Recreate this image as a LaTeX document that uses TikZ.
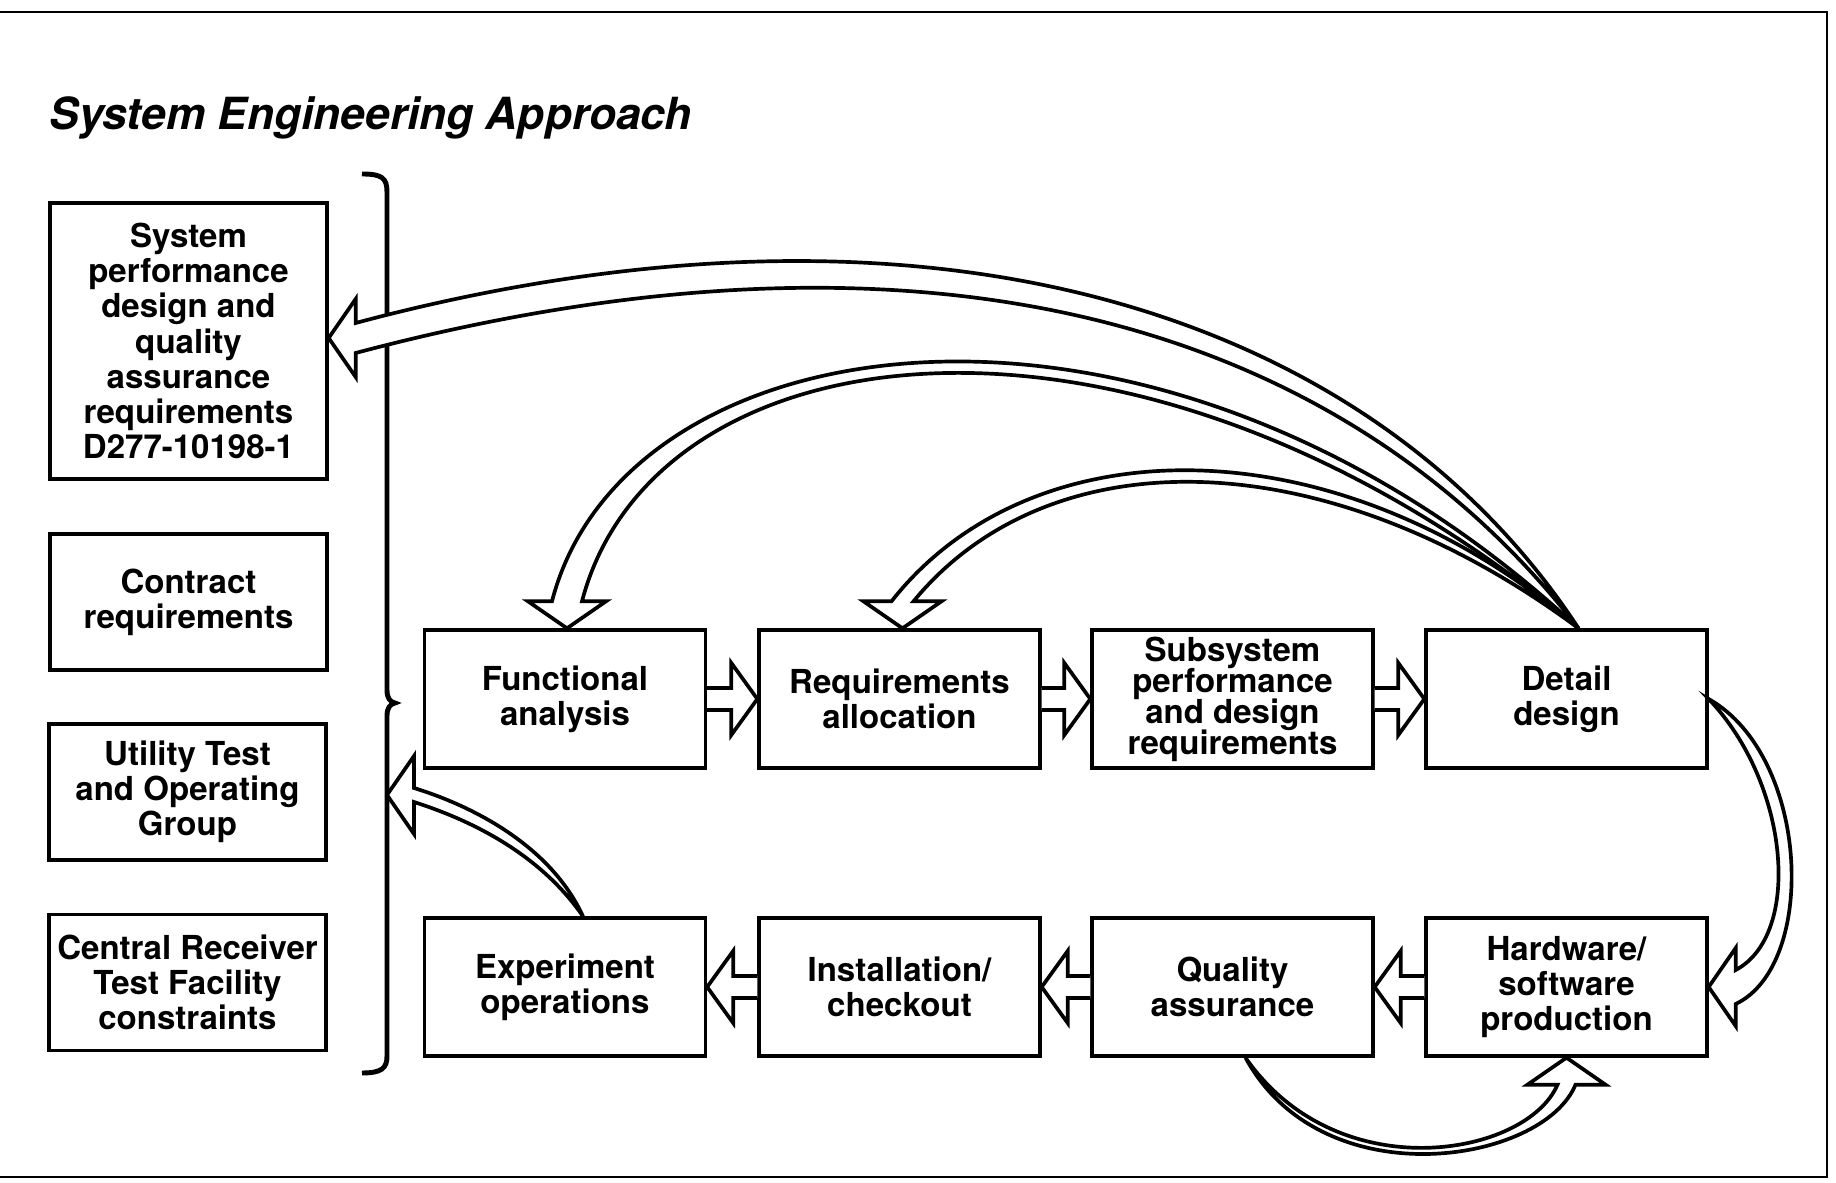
\documentclass[tikz,border=0pt]{standalone}
\usepackage{fontspec}
\setsansfont{TeX Gyre Heros}
\usetikzlibrary{calc}
\newcommand\boxfont{\sffamily\bfseries\fontsize{9.4}{10}\selectfont\lineskiplimit=-10pt}
\newcommand\tightfont{\sffamily\bfseries\fontsize{9.4}{8.8}\selectfont\lineskiplimit=-10pt}
\tikzset{
  stagebox/.style={draw, line width=0.95pt, minimum width=28.1mm, minimum height=13.8mm,
    inner sep=0pt, align=center, font=\boxfont},
  inputbox/.style={stagebox, minimum width=27.7mm, minimum height=13.6mm},
  hollow/.style={fill=white, draw=black, line width=1.05pt, line join=miter}
}
% #1 start, #2 #3 controls, #4 tip, #5 shaft half width, #6 head angle
\newcommand\bentarrow[6]{%
  \coordinate (ba-b) at ($(#4)+(#6:2.7mm)$);
  \filldraw[hollow] (#1)
    .. controls ($(#2)!#5!-90:(#1)$) and ($(#3)!#5!90:(ba-b)$) .. ($(ba-b)!#5!90:(#4)$)
    -- ($(ba-b)!3.9mm!90:(#4)$) -- (#4) -- ($(ba-b)!3.9mm!-90:(#4)$)
    -- ($(ba-b)!#5!-90:(#4)$)
    .. controls ($(#3)!#5!-90:(ba-b)$) and ($(#2)!#5!90:(#1)$) .. (#1) -- cycle;
}
\newcommand\blockarrow[2]{%
  \coordinate (bk-b) at ($(#2)!2.6mm!(#1)$);
  \filldraw[hollow] ($(#1)!1.1mm!90:(#2)$) -- ($(bk-b)!1.1mm!90:(#2)$)
    -- ($(bk-b)!3.6mm!90:(#2)$) -- (#2) -- ($(bk-b)!3.6mm!-90:(#2)$)
    -- ($(bk-b)!1.1mm!-90:(#2)$) -- ($(#1)!1.1mm!-90:(#2)$);
}
\begin{document}
\begin{tikzpicture}[x=0.1mm, y=-0.1mm]
  \useasboundingbox (0,0) rectangle (1836,1183);
  \draw[line width=0.6pt] (0,12) -- (1827,12) -- (1827,1177) -- (0,1177);
  \node[anchor=base west, inner sep=0pt, font=\sffamily\bfseries\itshape\fontsize{12.6}{14}\selectfont]
    (title) at (49,130) {System Engineering Approach};

  \node[inputbox, minimum height=27.6mm] (sysreq) at (188.5,341)
    {System\\performance\\design and\\quality\\assurance\\requirements\\D277-10198-1};
  \node[inputbox] (contract) at (188.5,602) {Contract\\requirements};
  \node[inputbox] (utility) at (187.5,792) {Utility Test\\and Operating\\Group};
  \node[inputbox] (central) at (187.5,982.5) {Central Receiver\\Test Facility\\constraints};

  \draw[line width=1.4pt] (362,174) .. controls (382,174) and (387,178) .. (387,192)
    -- (387,690) .. controls (387,698) and (390,702) .. (395,703)
    .. controls (390,704) and (387,708) .. (387,716)
    -- (387,1056) .. controls (387,1068) and (382,1073) .. (362,1073);
  \coordinate (bracein) at (387,795);

  \node[stagebox] (func) at (565,699) {Functional\\analysis};
  \node[stagebox] (alloc) at (899.5,699) {Requirements\\allocation};
  \node[stagebox, font=\tightfont] (subsys) at (1232.5,699)
    {Subsystem\\performance\\and design\\requirements};
  \node[stagebox] (detail) at (1566.5,699) {Detail\\design};
  \node[stagebox] (expop) at (565,987) {Experiment\\operations};
  \node[stagebox] (install) at (899.5,987) {Installation/\\checkout};
  \node[stagebox] (quality) at (1232.5,987) {Quality\\assurance};
  \node[stagebox] (hwsw) at (1566.5,987) {Hardware/\\software\\production};

  \blockarrow{func.east}{alloc.west}
  \blockarrow{alloc.east}{subsys.west}
  \blockarrow{subsys.east}{detail.west}
  \blockarrow{hwsw.west}{quality.east}
  \blockarrow{quality.west}{install.east}
  \blockarrow{install.west}{expop.east}

  \bentarrow{$(detail.north)+(12,0)$}{1360,321}{934,184}{$(sysreq.east)+(0,-3)$}{1.5mm}{0}
  \bentarrow{$(detail.north)+(12,0)$}{1150,250}{640,320}{$(func.north)+(2,0)$}{1.5mm}{90}
  \bentarrow{$(detail.north)+(12,0)$}{1330,430}{1040,430}{$(alloc.north)+(3,0)$}{1.1mm}{90}
  \bentarrow{detail.east}{1800,770}{1810,950}{hwsw.east}{1.7mm}{0}
  \bentarrow{$(quality.south)+(13,0)$}{1330,1195}{1535,1160}{hwsw.south}{0.9mm}{-90}
  \bentarrow{$(expop.north)+(18,0)$}{543,846}{465,811}{bracein}{0.7mm}{0}
\end{tikzpicture}
\end{document}
